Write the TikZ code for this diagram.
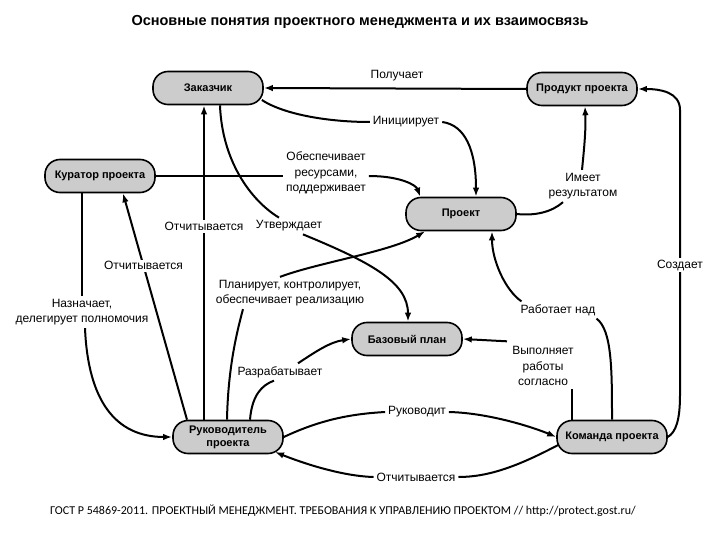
\documentclass[tikz,border=0pt]{standalone}
\usepackage{fontspec}
\setmainfont{Liberation Sans}
\newfontfamily\footfont{Carlito}
\usetikzlibrary{arrows.meta,calc}
\tikzset{
  box/.style={draw, line width=1.6pt, fill=gray!40, rounded corners=15pt,
    minimum width=110pt, minimum height=33pt, inner sep=2pt,
    font=\fontsize{11}{13}\selectfont\bfseries, align=center},
  lbl/.style={font=\fontsize{12}{15.5}\selectfont, align=center, inner sep=2pt},
  arr/.style={-{Latex[length=9pt,width=6.5pt]}},
}
\begin{document}
\begin{tikzpicture}[x=1pt,y=-1pt,line width=2pt]
\useasboundingbox[fill=white] (0,0) rectangle (720,540);

\node[font=\fontsize{14.5}{16}\selectfont\bfseries] (title) at (360,22)
  {Основные понятия проектного менеджмента и их взаимосвязь};
\node[font=\footfont\fontsize{12}{14}\selectfont] (foot) at (343,511)
  {ГОСТ Р 54869-2011. ПРОЕКТНЫЙ МЕНЕДЖМЕНТ. ТРЕБОВАНИЯ К УПРАВЛЕНИЮ ПРОЕКТОМ // http://protect.gost.ru/};

% main nodes
\node[box] (zak)  at (208,88)  {Заказчик};
\node[box] (prod) at (582,89)  {Продукт проекта};
\node[box] (kur)  at (100,176) {Куратор проекта};
\node[box] (proj) at (461,214) {Проект};
\node[box] (base) at (407,339) {Базовый план};
\node[box] (ruk)  at (228,437) {Руководитель\\проекта};
\node[box] (team) at (612,437) {Команда проекта};

% labels
\node[lbl] (lPol)  at (397,76)  {Получает};
\node[lbl] (lIni)  at (406,122) {Инициирует};
\node[lbl] (lObes) at (326,173) {Обеспечивает\\ресурсами,\\поддерживает};
\node[lbl] (lUtv)  at (289,226) {Утверждает};
\node[lbl] (lNazn) at (82,312)  {Назначает,\\делегирует полномочия};
\node[lbl] (lPlan) at (290,293) {Планирует, контролирует,\\обеспечивает реализацию};
\node[lbl] (lRazr) at (280,372) {Разрабатывает};
\node[lbl] (lRuk)  at (417,412) {Руководит};
\node[lbl] (lOtch3) at (416,477) {Отчитывается};
\node[lbl] (lVyp)  at (543,366) {Выполняет\\работы\\согласно};
\node[lbl] (lRab)  at (558,310) {Работает над};
\node[lbl] (lImeet) at (583,186) {Имеет\\результатом};

% Получает
\draw[arr] (prod.west) -- (zak.east);
% Инициирует
\draw ($(zak.east)+(-2,12)$) .. controls (285,115) and (330,122) .. (lIni.west);
\draw[arr] (lIni.east) .. controls (465,125) and (476,150) .. ($(proj.north)+(15,0)$);
% Обеспечивает
\draw (kur.east) -- (kur.east -| lObes.west);
\draw[arr] (lObes.east |- kur.east) .. controls (400,176) and (416,185) .. ($(proj.north west)+(15,0)$);
% Отчитывается (Руководитель -> Заказчик)
\draw[arr] ($(ruk.north)+(-24,0)$) -- node[lbl,fill=white,pos=0.614] (lOtch1) {Отчитывается} ($(zak.south)+(-4,0)$);
% Утверждает
\draw ($(zak.south)+(12,0)$) .. controls (222,160) and (250,200) .. ($(lUtv.north)+(-10,0)$);
\draw[arr] ($(lUtv.south)+(14,0)$) .. controls (370,262) and (408,282) .. ($(base.north)+(1,0)$);
% Отчитывается (Руководитель -> Куратор)
\draw[arr] ($(ruk.north)+(-41,0)$) -- node[lbl,fill=white,pos=0.68] (lOtch2) {Отчитывается} ($(kur.south)+(23,0)$);
% Назначает
\draw (kur.south -| lNazn.north) -- (lNazn.north);
\draw[arr] ($(lNazn.south)+(3,0)$) .. controls (88,400) and (115,437) .. (ruk.west);
% Планирует
\draw ($(ruk.north)+(-1,0)$) .. controls (228,370) and (236,335) .. ($(lPlan.south)+(-47,0)$);
\draw[arr] ($(lPlan.north)+(-10,0)$) .. controls (320,262) and (390,252) .. ($(proj.south west)+(20,0)$);
% Разрабатывает
\draw ($(ruk.north)+(22,0)$) .. controls (252,395) and (262,385) .. ($(lRazr.south)+(-6,0)$);
\draw[arr] ($(lRazr.north)+(18,0)$) .. controls (315,352) and (330,342) .. (base.west);
% Руководит
\draw (ruk.east) .. controls (320,420) and (350,414) .. (lRuk.west);
\draw[arr] (lRuk.east) .. controls (490,413) and (535,428) .. (team.west);
% Отчитывается (Команда -> Руководитель)
\draw ($(team.west)+(2,8)$) .. controls (520,465) and (490,477) .. (lOtch3.east);
\draw[arr] (lOtch3.west) .. controls (340,476) and (300,462) .. ($(ruk.center)+(47,15)$);
% Выполняет работы согласно
\draw ($(team.north)+(-40,0)$) -- ($(lVyp.south)+(29,0)$);
\draw[arr] ($(lVyp.north)+(-36,-2)$) -- (base.east);
% Работает над
\draw (team.north) .. controls (612,370) and (612,330) .. ($(lRab.south east)+(-2,0)$);
\draw[arr] ($(lRab.north west)+(4,0)$) .. controls (505,290) and (492,260) .. ($(proj.south)+(31,0)$);
% Создает
\draw[arr] (team.east) .. controls (676,432) and (680,420) .. (680,395)
  -- node[lbl,fill=white,pos=0.456] (lSozd) {Создает} (680,110)
  .. controls (680,92) and (660,89) .. (prod.east);
% Имеет результатом
\draw (proj.east) .. controls (535,216) and (552,212) .. ($(lImeet.south)+(-20,0)$);
\draw[arr] ($(lImeet.north)+(-1,0)$) .. controls (584,150) and (586,130) .. ($(prod.south)+(3,0)$);
\end{tikzpicture}
\end{document}
